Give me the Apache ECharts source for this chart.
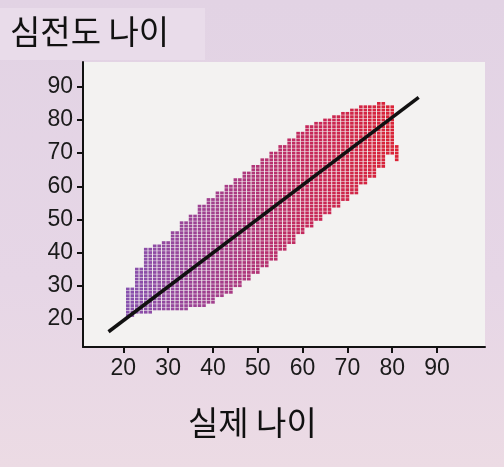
<!DOCTYPE html>
<html><head><meta charset="utf-8">
<script src="https://cdn.jsdelivr.net/npm/echarts@6/dist/echarts.min.js"></script>
<style>html,body{margin:0;padding:0;}#c{width:504px;height:467px;background:linear-gradient(180deg,#e2d3e4 0%,#e6d6e6 60%,#ecdbe4 100%);}</style>
</head><body><div id="c"></div>
<script>
const colAges = [21,23,25,27,29,31,33,35,37,39,41,43,45,47,49,51,53,55,57,59,61,63,65,67,69,71,73,75,77,79,81];
const colMax  = [29,35,41,42,43,46,49,51,54,56,58,60,62,64,66,68,70,72,74,76,78,79,80,81,82,83,84,84,85,84,72];
const colMin  = [21,22,22,23,23,23,23,24,24,25,27,28,30,32,34,36,38,41,43,46,48,50,52,54,56,58,61,63,66,70,68];
const tickVals = [20,30,40,50,60,70,80,90];
const fitLine = [[16.7,16.1],[85.9,86.8]];

const cells = [];
colAges.forEach((a,i)=>{
  for (let dx=0; dx<2; dx++){
    if (i===colAges.length-1 && dx===1) continue;
    for (let y=colMin[i]; y<=colMax[i]; y++) cells.push([a+dx, y]);
  }
});
const chart = echarts.init(document.getElementById('c'));
const lab = {fontSize:23,color:'#1a1a1a',fontFamily:'Liberation Sans'};
chart.setOption({
  animation:false,
  graphic:[
    {type:'rect',left:0,top:8,shape:{width:205,height:52},style:{fill:'#e9dcea'}},
    {type:'text',left:10,top:15,style:{text:'심전도 나이',fontSize:33,fill:'#111',fontFamily:'Noto Sans CJK KR'}},
    {type:'text',left:188,top:406,style:{text:'실제 나이',fontSize:33,fill:'#111',fontFamily:'Noto Sans CJK KR'}}
  ],
  grid:{left:83,right:19,top:62,bottom:120,show:true,backgroundColor:'#f3f2f1',borderWidth:0},
  xAxis:{type:'value',min:11,max:100.7,splitLine:{show:false},
    axisLine:{lineStyle:{color:'#111',width:2}},
    axisTick:{customValues:tickVals,length:6,lineStyle:{color:'#111',width:2}},
    axisLabel:Object.assign({customValues:tickVals,margin:10},lab)},
  yAxis:{type:'value',min:11.5,max:97.5,splitLine:{show:false},
    axisLine:{show:true,lineStyle:{color:'#111',width:2}},
    axisTick:{show:true,customValues:tickVals,length:6,lineStyle:{color:'#111',width:2}},
    axisLabel:Object.assign({customValues:tickVals,margin:10},lab)},
  visualMap:{show:false,type:'continuous',dimension:0,min:21,max:81,seriesIndex:0,
    inRange:{color:['#7b3fa6','#9a2a80','#c0124a','#d80c20']}},
  series:[
    {type:'scatter',data:cells,symbol:'rect',symbolSize:[3.6,2.8],itemStyle:{opacity:0.9},silent:true},
    {type:'line',data:fitLine,showSymbol:false,lineStyle:{color:'#111',width:3.5},silent:true}
  ]
});
</script></body></html>
